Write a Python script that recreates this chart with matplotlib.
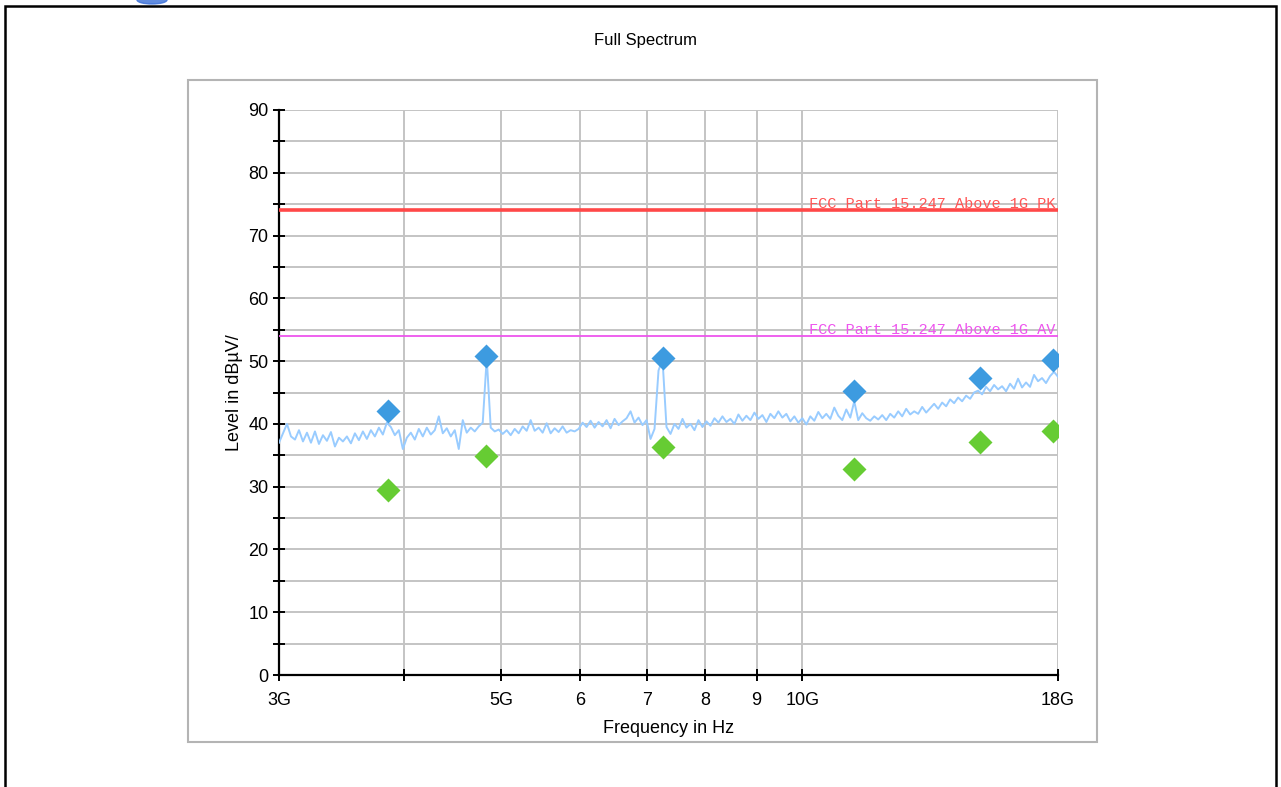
import numpy as np
import matplotlib.pyplot as plt
from matplotlib.patches import Rectangle, Ellipse

# measured trace, sweep 3G..18G (log spaced), level in dBuV
trace_level = [
    37.0, 38.5, 40.0, 38.0, 37.5, 39.0, 37.2, 38.6, 37.0, 38.8,
    36.8, 38.2, 37.3, 38.7, 36.4, 37.8, 37.2, 38.0, 36.9, 38.5,
    37.4, 38.8, 37.6, 39.0, 38.0, 39.4, 38.3, 40.2, 39.5, 38.2,
    39.0, 36.0, 37.8, 38.6, 37.5, 39.2, 38.0, 39.4, 38.3, 39.0,
    41.2, 38.5, 39.3, 38.0, 39.0, 36.0, 40.6, 38.6, 39.4, 38.8,
    39.6, 40.2, 50.5, 39.4, 38.8, 39.1, 38.4, 39.0, 38.2, 39.2,
    38.5, 39.6, 38.9, 40.6, 38.9, 39.4, 38.6, 40.1, 38.5, 39.3,
    38.7, 39.6, 38.6, 39.0, 38.8, 39.2, 40.2, 39.5, 40.5, 39.4,
    40.3, 39.6, 40.6, 39.3, 40.8, 39.8, 40.4, 40.9, 42.0, 40.2,
    41.0, 39.8, 40.6, 37.6, 39.2, 48.5, 50.3, 39.5, 38.4, 40.0,
    39.2, 40.8, 39.4, 40.0, 39.0, 40.6, 39.5, 40.4, 39.7, 40.9,
    40.2, 41.2, 40.3, 40.8, 40.0, 41.5, 40.5, 41.3, 40.6, 41.8,
    40.8, 41.4, 40.3, 41.6, 40.9, 42.0, 41.0, 41.6, 40.4, 41.2,
    40.2, 40.9, 39.9, 41.2, 40.5, 41.9, 40.9, 41.6, 40.8, 42.6,
    41.3, 40.6, 42.3, 41.0, 43.6, 40.6, 41.7, 40.9, 40.5, 41.2,
    40.7, 41.4, 40.6, 41.6, 41.0, 42.0, 41.2, 42.4, 41.5, 42.0,
    41.6, 42.7, 41.8, 42.5, 43.2, 42.4, 43.4, 42.8, 43.9, 43.3,
    44.2, 43.6, 44.5, 44.0, 45.0, 45.3, 44.7, 45.9, 45.2, 46.2,
    45.5, 46.0, 45.2, 46.4, 45.6, 47.2, 45.8, 46.6, 45.9, 47.8,
    46.8, 47.3, 46.5, 47.6, 48.3, 47.5,
]
f_start = 3e9
f_stop = 18e9

# final measurement points
final_freq = [3.855e9, 4.83e9, 7.256e9, 11.26e9, 15.05e9, 17.80e9]
peak_level = [42.1, 50.8, 50.5, 45.2, 47.3, 50.2]
avg_level = [29.4, 34.9, 36.3, 32.8, 37.1, 38.9]

limit_pk = 74
limit_av = 54

xticks = [3e9, 4e9, 5e9, 6e9, 7e9, 8e9, 9e9, 10e9, 18e9]
xticklabels = ['3G', '', '5G', '6', '7', '8', '9', '10G', '18G']

plt.rcParams['font.family'] = ['Liberation Sans', 'DejaVu Sans']

fig = plt.figure(figsize=(12.81, 7.87), dpi=100)
ax = fig.add_axes([279/1281, 1-675/787, 779/1281, 565/787])

freq = np.geomspace(f_start, f_stop, len(trace_level))
ax.plot(freq, trace_level, color='#99ccff', lw=1.4, zorder=3)

ax.axhline(limit_pk, color='#ff4848', lw=2.6, zorder=4)
ax.axhline(limit_av, color='#ee55ee', lw=1.3, zorder=4)
ax.text(0.997, limit_pk, 'FCC Part 15.247 Above 1G_PK', color='#ff5555',
        transform=ax.get_yaxis_transform(), ha='right', va='bottom',
        family='Liberation Mono', fontsize=11, zorder=5)
ax.text(0.997, limit_av, 'FCC Part 15.247 Above 1G_AV', color='#ee55ee',
        transform=ax.get_yaxis_transform(), ha='right', va='bottom',
        family='Liberation Mono', fontsize=11, zorder=5)

ax.plot(final_freq, peak_level, 'D', color='#3d9be0', ms=12, mec='none', zorder=6)
ax.plot(final_freq, avg_level, 'D', color='#66cc33', ms=12, mec='none', zorder=6)

ax.set_xscale('log')
ax.set_xlim(f_start, f_stop)
ax.set_ylim(0, 90)
ax.set_xticks(xticks)
ax.set_xticklabels(xticklabels)
ax.xaxis.set_minor_locator(plt.NullLocator())
ax.set_yticks(np.arange(0, 91, 10))
ax.set_yticks(np.arange(5, 90, 10), minor=True)

ax.grid(True, which='both', color='#c4c4c4', lw=1.4, zorder=0)
ax.set_axisbelow(True)
for s in ['top', 'right']:
    ax.spines[s].set_visible(False)
for s in ['left', 'bottom']:
    ax.spines[s].set_linewidth(1.6)
ax.tick_params(axis='both', which='both', direction='inout', length=9,
               width=1.4, labelsize=13)
ax.tick_params(axis='x', pad=8)
ax.tick_params(axis='y', pad=3)

ax.set_xlabel('Frequency in Hz', fontsize=13, labelpad=8)
ax.set_ylabel('Level in dBµV/', fontsize=13)
fig.text(646/1281, 1-40/787, 'Full Spectrum', ha='center', va='center', fontsize=12)

# panel border and page border
fig.patches.append(Rectangle((188/1281, 1-742/787), 909/1281, 662/787,
                             transform=fig.transFigure, fill=False,
                             ec='#b4b4b4', lw=1.5))
fig.patches.append(Rectangle((5/1281, -0.02), 1271/1281, 1.02-5.5/787,
                             transform=fig.transFigure, fill=False,
                             ec='black', lw=1.8))
fig.patches.append(Ellipse((152/1281, 1.0), 30/1281, 8/787,
                           transform=fig.transFigure, color='#3a6fd8', alpha=0.8))

fig.savefig('out.png', dpi=100)
